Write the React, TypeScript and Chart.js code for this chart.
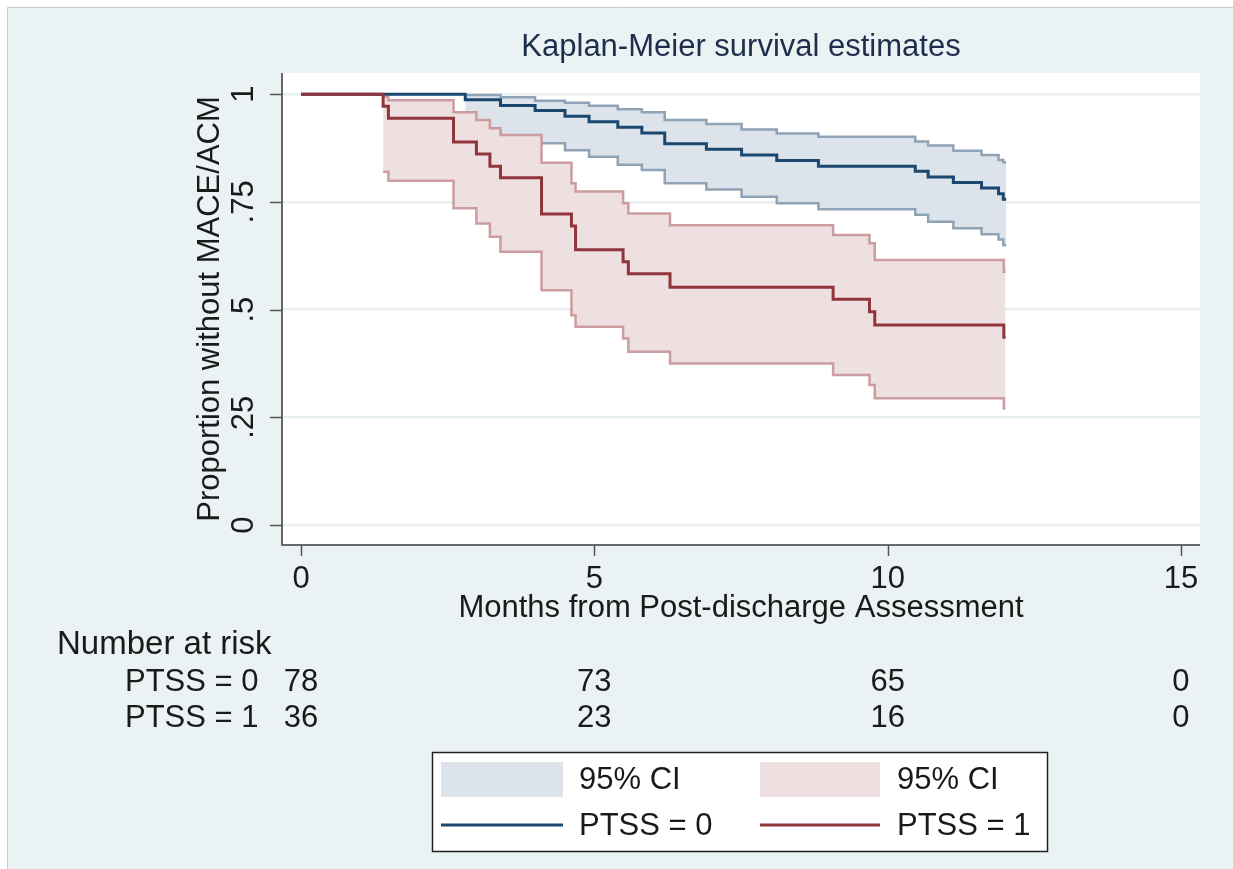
import React, { useEffect, useRef } from 'react';
import { Chart, registerables } from 'chart.js';

Chart.register(...registerables);

// ---- Data ----
const blueTimes = [2.80, 3.40, 3.99, 4.50, 4.91, 5.40, 5.81, 6.20, 6.91, 7.51, 8.11, 8.82, 10.47, 10.69, 11.12, 11.60, 11.89, 11.97];
const blueSurv = [0.987, 0.974, 0.962, 0.949, 0.936, 0.923, 0.910, 0.885, 0.872, 0.859, 0.846, 0.833, 0.821, 0.808, 0.795, 0.782, 0.769, 0.756];
const blueUpper = [0.998, 0.993, 0.985, 0.980, 0.973, 0.965, 0.958, 0.940, 0.931, 0.918, 0.909, 0.901, 0.890, 0.881, 0.869, 0.859, 0.847, 0.842];
const blueLower = [0.913, 0.900, 0.886, 0.870, 0.855, 0.836, 0.824, 0.793, 0.779, 0.762, 0.747, 0.733, 0.720, 0.704, 0.689, 0.675, 0.663, 0.650];
const blueEnd = 12.02;

const redTimes = [1.40, 1.49, 2.60, 2.99, 3.22, 3.40, 4.10, 4.61, 4.68, 5.49, 5.58, 6.29, 9.07, 9.69, 9.78, 11.98];
const redSurv = [0.972, 0.944, 0.889, 0.861, 0.833, 0.806, 0.722, 0.694, 0.639, 0.611, 0.583, 0.552, 0.524, 0.495, 0.464, 0.436];
const redUpper = [0.994, 0.986, 0.958, 0.940, 0.921, 0.905, 0.841, 0.793, 0.774, 0.747, 0.723, 0.696, 0.673, 0.654, 0.615, 0.588];
const redLower = [0.820, 0.799, 0.735, 0.700, 0.669, 0.634, 0.545, 0.487, 0.460, 0.433, 0.402, 0.375, 0.348, 0.325, 0.294, 0.271];
const redEnd = 12.01;

const xTicks = [0, 5, 10, 15];
const xTickLabels = ['0', '5', '10', '15'];
const yTicks = [0, 0.25, 0.5, 0.75, 1];
const yTickLabels = ['0', '.25', '.5', '.75', '1'];

const riskGroups = ['PTSS = 0', 'PTSS = 1'];
const riskPTSS0 = [78, 73, 65, 0];
const riskPTSS1 = [36, 23, 16, 0];

const titleText = 'Kaplan-Meier survival estimates';
const xTitle = 'Months from Post-discharge Assessment';
const yTitle = 'Proportion without MACE/ACM';
const riskTitle = 'Number at risk';
const legendCI = '95% CI';

// ---- Styles ----
const FONT = '"Liberation Sans", Arial, sans-serif';
const BLUE = '#1A476F';
const RED = '#90353B';
const BLUE_CI = '#8FA3B7';
const RED_CI = '#CC9DA0';
const BLUE_FILL = '#DCE3EA';
const RED_FILL = '#EEDFE0';
const BG = '#EAF2F3';
const TEXT = '#1a1a1a';

function ciPoints(times: number[], vals: number[], end: number) {
  const p = times.map((t, i) => ({ x: t, y: vals[i] }));
  p.push({ x: end, y: vals[vals.length - 1] });
  return p;
}
function kmPoints(times: number[], vals: number[], end: number) {
  return [{ x: 0, y: 1 }, ...ciPoints(times, vals, end)];
}

const decorPlugin = {
  id: 'decor',
  beforeDraw(chart: any) {
    const { ctx, chartArea: ca, width, height } = chart;
    ctx.save();
    ctx.fillStyle = '#ffffff';
    ctx.fillRect(0, 0, width, height);
    ctx.fillStyle = BG;
    ctx.fillRect(7, 7, width - 7, height - 7);
    ctx.strokeStyle = '#C6CACC';
    ctx.lineWidth = 1;
    ctx.beginPath();
    ctx.moveTo(7.5, height);
    ctx.lineTo(7.5, 7.5);
    ctx.lineTo(width, 7.5);
    ctx.stroke();
    ctx.fillStyle = '#ffffff';
    ctx.fillRect(ca.left, ca.top, ca.right - ca.left, ca.bottom - ca.top);
    ctx.restore();
  },
  afterDraw(chart: any) {
    const { ctx, chartArea: ca } = chart;
    const xs = chart.scales.x;
    const ys = chart.scales.y;
    const cx = (ca.left + ca.right) / 2;
    ctx.save();

    // axes
    ctx.strokeStyle = '#3a3a3a';
    ctx.lineWidth = 1.5;
    ctx.beginPath();
    ctx.moveTo(ca.left, ca.top);
    ctx.lineTo(ca.left, ca.bottom);
    ctx.lineTo(ca.right, ca.bottom);
    ctx.stroke();

    ctx.lineWidth = 1.5;
    ctx.strokeStyle = '#555';
    ctx.beginPath();
    yTicks.forEach((v) => {
      const y = Math.round(ys.getPixelForValue(v)) + 0.5;
      ctx.moveTo(ca.left - 12, y);
      ctx.lineTo(ca.left, y);
    });
    xTicks.forEach((v) => {
      const x = Math.round(xs.getPixelForValue(v)) + 0.5;
      ctx.moveTo(x, ca.bottom);
      ctx.lineTo(x, ca.bottom + 11);
    });
    ctx.stroke();

    ctx.fillStyle = TEXT;
    ctx.font = `31px ${FONT}`;
    ctx.textBaseline = 'middle';

    // y tick labels (rotated)
    ctx.textAlign = 'center';
    yTicks.forEach((v, i) => {
      const y = ys.getPixelForValue(v);
      ctx.save();
      ctx.translate(244, y);
      ctx.rotate(-Math.PI / 2);
      ctx.fillText(yTickLabels[i], 0, 0);
      ctx.restore();
    });

    // y title
    ctx.save();
    ctx.translate(210, (ca.top + ca.bottom) / 2);
    ctx.rotate(-Math.PI / 2);
    ctx.fillText(yTitle, 0, 0);
    ctx.restore();

    // x tick labels
    xTicks.forEach((v, i) => {
      ctx.fillText(xTickLabels[i], xs.getPixelForValue(v), 579);
    });
    ctx.fillText(xTitle, cx, 608);

    // title
    ctx.fillStyle = '#1E2D4C';
    ctx.fillText(titleText, cx, 47);
    ctx.fillStyle = TEXT;

    // number at risk
    ctx.textAlign = 'left';
    ctx.font = `33px ${FONT}`;
    ctx.fillText(riskTitle, 57, 645);
    ctx.font = `31px ${FONT}`;
    ctx.fillText(riskGroups[0], 125, 682);
    ctx.fillText(riskGroups[1], 125, 718);
    ctx.textAlign = 'center';
    xTicks.forEach((v, i) => {
      const x = xs.getPixelForValue(v);
      ctx.fillText(String(riskPTSS0[i]), x, 682);
      ctx.fillText(String(riskPTSS1[i]), x, 718);
    });

    // legend
    ctx.fillStyle = '#ffffff';
    ctx.fillRect(432, 752, 616, 100);
    ctx.strokeStyle = '#222';
    ctx.lineWidth = 1.5;
    ctx.strokeRect(432.5, 752.5, 615, 99);
    ctx.fillStyle = BLUE_FILL;
    ctx.fillRect(441, 762, 122, 35);
    ctx.fillStyle = RED_FILL;
    ctx.fillRect(760, 762, 120, 35);
    ctx.lineWidth = 3;
    ctx.strokeStyle = BLUE;
    ctx.beginPath();
    ctx.moveTo(441, 825);
    ctx.lineTo(563, 825);
    ctx.stroke();
    ctx.strokeStyle = RED;
    ctx.beginPath();
    ctx.moveTo(760, 825);
    ctx.lineTo(880, 825);
    ctx.stroke();
    ctx.fillStyle = TEXT;
    ctx.textAlign = 'left';
    ctx.fillText(legendCI, 579, 780);
    ctx.fillText(legendCI, 897, 780);
    ctx.fillText('PTSS = 0', 579, 826);
    ctx.fillText('PTSS = 1', 897, 826);

    ctx.restore();
  },
};

export default function App() {
  const ref = useRef<HTMLCanvasElement | null>(null);
  useEffect(() => {
    if (!ref.current) return;
    const common = { pointRadius: 0, pointHoverRadius: 0, stepped: true as const, tension: 0 };
    const chart = new Chart(ref.current, {
      type: 'line',
      data: {
        datasets: [
          { ...common, label: 'bu', data: ciPoints(blueTimes, blueUpper, blueEnd), borderColor: BLUE_CI, borderWidth: 2.5, fill: '+1', backgroundColor: BLUE_FILL, order: 6 },
          { ...common, label: 'bl', data: ciPoints(blueTimes, blueLower, blueEnd), borderColor: BLUE_CI, borderWidth: 2.5, fill: false, order: 5 },
          { ...common, label: 'ru', data: ciPoints(redTimes, redUpper, redEnd), borderColor: RED_CI, borderWidth: 2.5, fill: '+1', backgroundColor: RED_FILL, order: 4 },
          { ...common, label: 'rl', data: ciPoints(redTimes, redLower, redEnd), borderColor: RED_CI, borderWidth: 2.5, fill: false, order: 3 },
          { ...common, label: 'PTSS = 0', data: kmPoints(blueTimes, blueSurv, blueEnd), borderColor: BLUE, borderWidth: 3, fill: false, order: 2 },
          { ...common, label: 'PTSS = 1', data: kmPoints(redTimes, redSurv, redEnd), borderColor: RED, borderWidth: 3, fill: false, order: 1 },
        ],
      },
      options: {
        responsive: false,
        animation: false,
        layout: { padding: { left: 282, top: 73, right: 33, bottom: 324 } },
        plugins: { legend: { display: false }, tooltip: { enabled: false }, title: { display: false } },
        scales: {
          x: {
            type: 'linear',
            min: -0.324,
            max: 15.324,
            afterBuildTicks: (s: any) => { s.ticks = xTicks.map((v) => ({ value: v })); },
            ticks: { display: false },
            grid: { display: false, drawTicks: false },
            border: { display: false },
          },
          y: {
            type: 'linear',
            min: -0.0464,
            max: 1.0492,
            afterBuildTicks: (s: any) => { s.ticks = yTicks.map((v) => ({ value: v })); },
            ticks: { display: false },
            grid: { color: '#E8EFF0', lineWidth: 2.5, drawTicks: false },
            border: { display: false },
          },
        },
      },
      plugins: [decorPlugin],
    });
    return () => chart.destroy();
  }, []);
  return (
    <div style={{ position: 'fixed', left: 0, top: 0, width: 1233, height: 869 }}>
      <canvas ref={ref} width={1233} height={869} style={{ width: 1233, height: 869, display: 'block' }} />
    </div>
  );
}
